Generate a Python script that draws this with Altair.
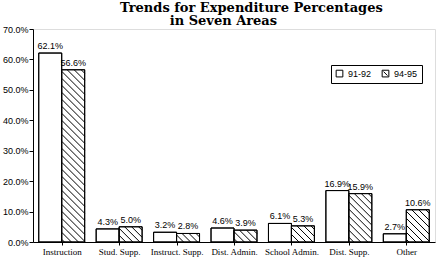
import altair as alt
import pandas as pd

categories = ["Instruction", "Stud. Supp.", "Instruct. Supp.", "Dist. Admin.",
              "School Admin.", "Dist. Supp.", "Other"]
series = ["91-92", "94-95"]
v9192 = [62.1, 4.3, 3.2, 4.6, 6.1, 16.9, 2.7]
v9495 = [56.6, 5.0, 2.8, 3.9, 5.3, 15.9, 10.6]
y_ticks = [0, 10, 20, 30, 40, 50, 60, 70]

# layout
W, H = 402, 213
XMIN, XMAX = -0.5, 6.5
YMAX = 70
BARW = 0.4
SX = W / (XMAX - XMIN)
SY = H / YMAX
STEP = 7  # hatch spacing in px

rows = []
for i, cat in enumerate(categories):
    for s, vals in zip(series, [v9192, v9495]):
        x0 = i - BARW if s == series[0] else i
        rows.append({"cat": cat, "idx": i, "series": s, "value": vals[i],
                     "x0": x0, "x1": x0 + BARW, "xc": x0 + BARW / 2})
df = pd.DataFrame(rows)

# hatch lines for the 94-95 bars, clipped to each bar
hrows = []
for r in rows:
    if r["series"] != series[1]:
        continue
    w = BARW * SX
    h = r["value"] * SY
    k = -w + STEP / 2
    while k < h:
        u0 = max(0.0, -k)
        u1 = min(w, h - k)
        if u1 > u0:
            v0 = u0 + k
            v1 = u1 + k
            hrows.append({"xa": r["x0"] + u0 / SX, "ya": r["value"] - v0 / SY,
                          "xb": r["x0"] + u1 / SX, "yb": r["value"] - v1 / SY})
        k += STEP
hdf = pd.DataFrame(hrows)

xscale = alt.Scale(domain=[XMIN, XMAX], nice=False, zero=False)
yscale = alt.Scale(domain=[0, YMAX], nice=False, zero=True)

label_arr = "[" + ",".join("'" + c + "'" for c in categories) + "]"
xaxis = alt.Axis(values=list(range(len(categories))), labelExpr=label_arr + "[datum.value]",
                 title=None, grid=False, domainColor="black", tickColor="black",
                 tickSize=3, labelFont="Liberation Serif", labelFontSize=9,
                 labelColor="black", labelAngle=0, labelPadding=2, labelFlush=False,
                 labelOverlap=False)
yaxis = alt.Axis(values=y_ticks, labelExpr="format(datum.value,'.1f')+'%'",
                 title=None, grid=False, domainColor="black", tickColor="black", tickSize=4,
                 labelFont="Liberation Sans", labelFontSize=9, labelColor="black",
                 labelPadding=1, labelOverlap=False, labelFlush=False)

base = alt.Chart(df)

bars = base.mark_rect(fill="white", stroke="black", strokeWidth=1).encode(
    x=alt.X("x0:Q", scale=xscale, axis=xaxis),
    x2="x1:Q",
    y=alt.Y("value:Q", scale=yscale, axis=yaxis),
    y2=alt.datum(0),
)

hatch = alt.Chart(hdf).mark_rule(color="black", strokeWidth=1).encode(
    x=alt.X("xa:Q", scale=xscale, axis=xaxis),
    x2="xb:Q",
    y=alt.Y("ya:Q", scale=yscale, axis=yaxis),
    y2="yb:Q",
)

outline = base.mark_rect(fill=None, stroke="black", strokeWidth=1).encode(
    x=alt.X("x0:Q", scale=xscale, axis=xaxis),
    x2="x1:Q",
    y=alt.Y("value:Q", scale=yscale, axis=yaxis),
    y2=alt.datum(0),
)

labels = base.transform_calculate(lbl="format(datum.value,'.1f')+'%'").mark_text(
    baseline="bottom", dy=-2, font="Liberation Sans", fontSize=9, color="black").encode(
    x=alt.X("xc:Q", scale=xscale, axis=xaxis),
    y=alt.Y("value:Q", scale=yscale, axis=yaxis),
    text="lbl:N",
)

sq = "M-1,-1H1V1H-1Z"
sqh = "M-1,-1H1V1H-1Z M-0.6,-0.6L0.6,0.6"
leg = alt.Chart(pd.DataFrame({"series": series, "x0": [0, 0], "value": [0, 0]})).mark_point(
    opacity=0).encode(
    x=alt.X("x0:Q", scale=xscale, axis=xaxis),
    y=alt.Y("value:Q", scale=yscale, axis=yaxis),
    shape=alt.Shape("series:N", scale=alt.Scale(domain=series, range=[sq, sqh]),
                    legend=alt.Legend(title=None, orient="none", legendX=298, legendY=36,
                                      direction="horizontal", strokeColor="black",
                                      padding=4, symbolFillColor="white",
                                      symbolStrokeColor="black", symbolOpacity=1,
                                      symbolStrokeWidth=1, symbolSize=45,
                                      labelFont="Liberation Sans", labelFontSize=9,
                                      labelColor="black", columnPadding=8,
                                      labelOffset=4)),
)

chart = alt.layer(bars, hatch, outline, labels, leg).properties(
    width=W, height=H,
    autosize=alt.AutoSizeParams(type="none"),
    padding={"left": 33, "top": 29, "right": 4, "bottom": 17},
    title=alt.TitleParams(text=["Trends for Expenditure Percentages",
                                "\u200b" + "\u00a0" * 11 + "in Seven Areas"],
                          anchor="start", frame="group", dx=87, dy=7, font="DejaVu Serif",
                          fontWeight="bold", fontSize=13, lineHeight=13.5, color="black",
                          offset=4),
).configure_view(stroke=None).configure(background="white")

chart.save("out.html", embed_options={"renderer": "svg", "actions": False})
